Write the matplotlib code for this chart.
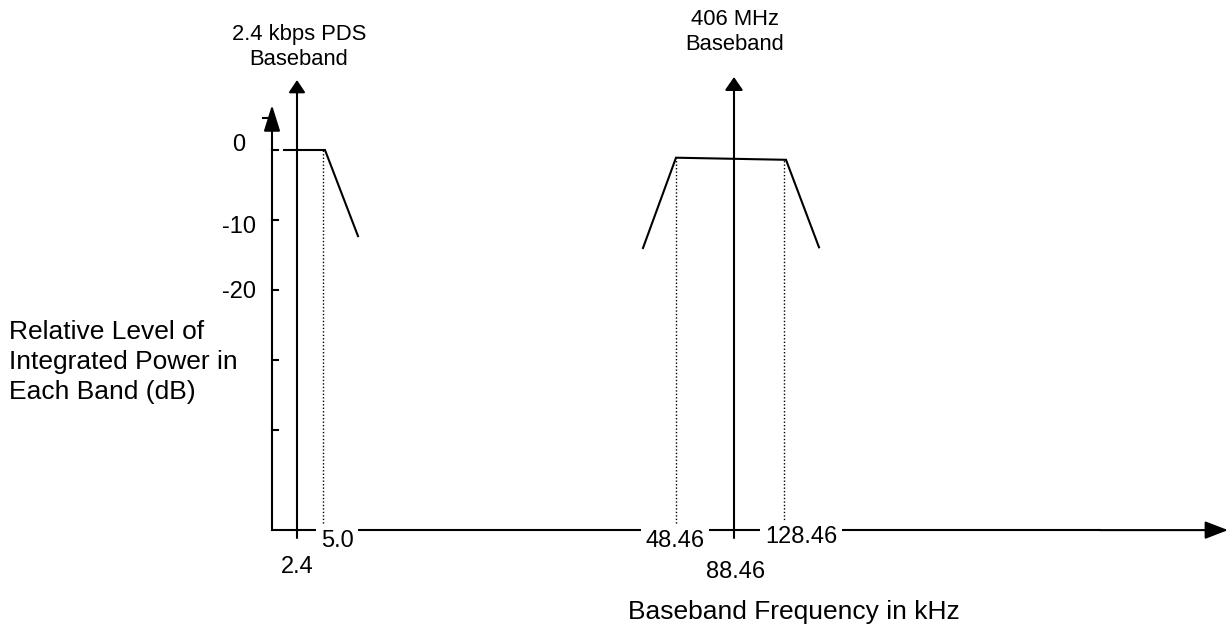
import matplotlib.pyplot as plt

plt.rcParams['font.family'] = ['Liberation Sans', 'DejaVu Sans']
plt.rcParams['font.size'] = 17

# diagram is not to scale: each labelled frequency has its own schematic x position
freq_labels = ["2.4", "5.0", "48.46", "88.46", "128.46"]
freq_pos = [297, 323, 676, 734, 784]

# relative level axis (dB)
level_ticks = [0, -10, -20, -30, -40]
level_labels = ["0", "-10", "-20", "", ""]
floor_db = -54.3

# 2.4 kbps PDS baseband mask
pds_x = [284, 325, 358]
pds_db = [0, 0, -12.3]

# 406 MHz baseband mask
bb_x = [643, 676, 786, 819]
bb_db = [-14.0, -1.1, -1.4, -13.9]

fig = plt.figure(figsize=(12.29, 6.31), dpi=100)
ax = fig.add_axes([0, 0, 1, 1])
ax.set_xlim(0, 1229)
ax.set_ylim(-68.714, 21.4286)
ax.axis("off")


def px(y):
    # pixel row -> dB, used only for placing text
    return (150 - y) / 7


def arrow(x0, y0, x1, y1, hl, hw):
    ax.annotate("", xy=(x1, y1), xytext=(x0, y0), annotation_clip=False,
                arrowprops=dict(arrowstyle=f"-|>,head_length={hl},head_width={hw}",
                                lw=1.5, color="k", shrinkA=0, shrinkB=0,
                                mutation_scale=1))


# axes
left_x = 272
ax.plot([left_x, left_x], [floor_db, 0], color="k", lw=1.5)
arrow(left_x, 0, left_x, px(105), 16, 5)
ax.plot([263, left_x], [px(118), px(118)], color="k", lw=1.5)
for t in level_ticks:
    ax.plot([left_x, 278], [t, t], color="k", lw=1.5)
for t, lab, dy in zip(level_ticks, level_labels, [0.7, -1.0, -0.3, 0, 0]):
    if lab:
        ax.text(239, t + dy, lab, ha="center", va="center")

ax.plot([left_x, 1100], [floor_db, floor_db], color="k", lw=1.5)
arrow(1100, floor_db, 1228, floor_db, 14, 5.4)
arrow(freq_pos[0], px(538), freq_pos[0], px(80), 7.5, 5)
arrow(freq_pos[3], px(538), freq_pos[3], px(77), 8, 5.5)

# spectrum masks
ax.plot(pds_x, pds_db, color="k", lw=1.5, solid_joinstyle="miter")
ax.plot(bb_x, bb_db, color="k", lw=1.5, solid_joinstyle="miter")

# dotted band edges
ax.plot([freq_pos[1]] * 2, [floor_db, pds_db[1]], color="k", lw=1, ls=(0, (1, 1.5)))
ax.plot([freq_pos[2]] * 2, [floor_db, bb_db[1]], color="k", lw=1, ls=(0, (1, 1.5)))
ax.plot([freq_pos[4]] * 2, [floor_db, bb_db[2]], color="k", lw=1, ls=(0, (1, 1.5)))

# frequency labels (white boxes break the baseline like the original)
lab_x = [297, 337, 675, 736, 801]
lab_y = [567, 541, 541, 572, 537]
for lab, x, y in zip(freq_labels, lab_x, lab_y):
    ax.text(x, px(y), lab, ha="center", va="center", zorder=5,
            bbox=dict(boxstyle="square,pad=0.2", fc="white", ec="none"))

ax.text(299, px(47), "2.4 kbps PDS\nBaseband", ha="center", va="center",
        fontsize=15.8, linespacing=1.25)
ax.text(735, px(32), "406 MHz\nBaseband", ha="center", va="center",
        fontsize=15.8, linespacing=1.25)
ax.text(9, px(362), "Relative Level of\nIntegrated Power in\nEach Band (dB)",
        ha="left", va="center", fontsize=19, linespacing=1.34)
ax.text(794, px(612), "Baseband Frequency in kHz", ha="center", va="center", fontsize=19)

fig.savefig("out.png", dpi=100)
